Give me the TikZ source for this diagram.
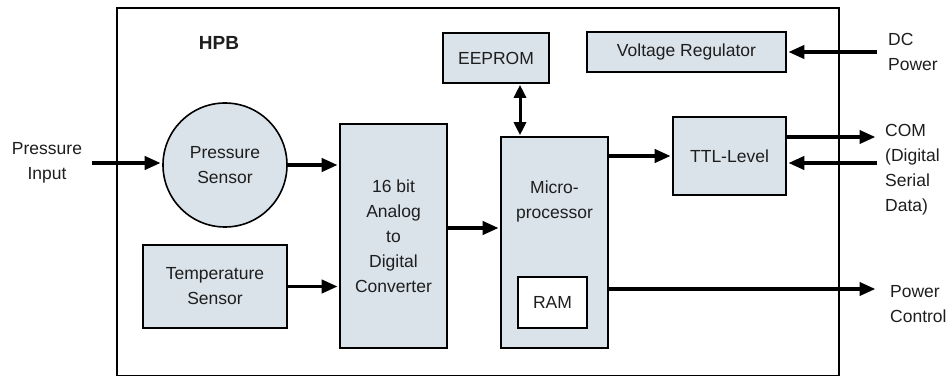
\documentclass[tikz,border=0pt]{standalone}
\usepackage{fontspec}
\setmainfont{Liberation Sans}
\usepackage{tikz}
\usetikzlibrary{arrows.meta,positioning}
\definecolor{hpbfill}{RGB}{218,227,234}
\definecolor{hpbtext}{RGB}{30,30,30}

\begin{document}
\begin{tikzpicture}[x=1pt,y=-1pt,>=Triangle,
  every node/.style={font=\fontsize{17.5}{25}\selectfont,text=hpbtext},
  blk/.style={draw=black,line width=1.6pt,fill=hpbfill,align=center,inner sep=0pt},
  lbl/.style={align=left,inner sep=0pt,anchor=west},
  arr/.style={line width=3.8pt,shorten >=1.5pt,-{Triangle[length=16pt,width=13pt]}},
  biarr/.style={line width=3pt,shorten >=1pt,shorten <=1pt,{Triangle[length=13pt,width=12pt]}-{Triangle[length=13pt,width=12pt]}}]
\fill[white] (0,0) rectangle (951,377);
\useasboundingbox (0,0) rectangle (951,377);
\draw[line width=1.8pt] (117,8) rectangle (839,375.5);
\node[font=\fontsize{19}{25}\bfseries\selectfont,inner sep=0pt] (hpb_title) at (219,43) {HPB};
% blocks
\node[blk,minimum width=106pt,minimum height=50pt] (hpb_ee) at (496,58) {EEPROM};
\node[blk,minimum width=199pt,minimum height=40pt] (hpb_vr) at (686.5,52) {Voltage Regulator};
\node[blk,circle,minimum size=124pt] (hpb_ps) at (225,165) {Pressure\\Sensor};
\node[blk,minimum width=107pt,minimum height=224pt] (hpb_adc) at (393.5,236) {16 bit\\Analog\\to\\Digital\\Converter};
\node[blk,minimum width=144pt,minimum height=83pt] (hpb_temp) at (215,286.5) {Temperature\\Sensor};
\node[blk,minimum width=107pt,minimum height=211pt] (hpb_mp) at (554.5,242.5) {};
\node[align=center,inner sep=0pt] (hpb_mp_txt) at (554.5,201) {Micro-\\processor};
\node[blk,fill=white,minimum width=69pt,minimum height=51pt] (hpb_ram) at (552.5,302.5) {RAM};
\node[blk,minimum width=113pt,minimum height=78pt] (hpb_ttl) at (729.5,156) {TTL-Level};
% outside labels
\node[align=center,inner sep=0pt] (lbl_pin) at (47,163) {Pressure\\Input};
\node[lbl] (lbl_dc) at (888,52) {DC\\Power};
\node[lbl] (lbl_com) at (885,170) {COM\\(Digital\\Serial\\Data)};
\node[lbl] (lbl_pc) at (890,304) {Power\\Control};
\coordinate (pin) at (92,163);
\coordinate (dc_in) at (877,52);
\coordinate (com_out) at (877,137);
\coordinate (com_in) at (877,163);
\coordinate (pc_out) at (877,289);
% connectors
\draw[arr] (pin) -- (pin -| hpb_ps.west);
\draw[arr] (hpb_ps.east) -- (hpb_ps.east -| hpb_adc.west);
\draw[arr] (hpb_temp.east) -- (hpb_temp.east -| hpb_adc.west);
\draw[arr] ([yshift=8pt]hpb_adc.east) -- ([yshift=8pt]hpb_adc.east -| hpb_mp.west);
\draw[biarr] ([xshift=24pt]hpb_ee.south) -- ([xshift=24pt]hpb_ee.south |- hpb_mp.north);
\draw[arr] (hpb_ttl.west -| hpb_mp.east) -- (hpb_ttl.west);
\draw[arr] (dc_in) -- (hpb_vr.east);
\draw[arr] (hpb_ttl.east |- com_out) -- (com_out);
\draw[arr] (com_in) -- (com_in -| hpb_ttl.east);
\draw[arr] (hpb_mp.east |- pc_out) -- (pc_out);
\end{tikzpicture}
\end{document}
